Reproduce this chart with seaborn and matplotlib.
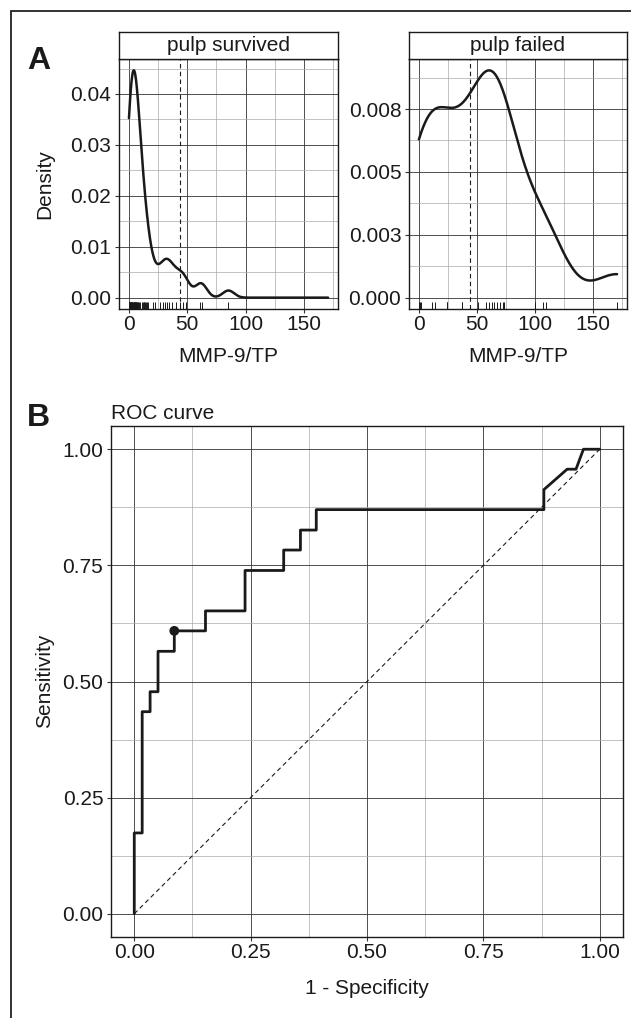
import numpy as np
import pandas as pd
import matplotlib
matplotlib.use('Agg')
import matplotlib.pyplot as plt
import matplotlib.ticker as ticker
from matplotlib.patches import Rectangle
import seaborn as sns

# MMP-9/TP values
survived = [0.0, 0.0, 0.3, 0.3, 0.3, 0.5, 0.8,
            1.2, 1.4, 1.6, 1.8, 2.0, 2.2, 2.4, 2.7, 3.0, 3.3,
            3.6, 3.9, 4.2, 4.4, 4.5, 4.8, 5.0, 5.1, 5.4, 5.7,
            6.0, 6.4, 6.8, 7.2, 7.6, 8.0, 8.6, 9.2,
            11.5, 12.0, 12.5, 12.8,
            13.6, 14.4, 15.2, 16.2,
            20.3, 22.0, 27.0, 29.5, 31.0, 32.5, 34.5, 37.0,
            40.0, 44.0, 46.5, 49.1,
            61.2, 62.4, 85.3]
failed = [0.0, 0.3, 1.0, 1.4, 11.2, 13.5, 23.9, 24.6, 36.8, 37.5, 50.6,
          57.8, 60.3, 62.9, 64.9, 67.2, 69.5, 72.4, 73.5,
          100.3, 107.2, 109.5, 170.7]
cutoff = 44.0

# ROC curve (1 - specificity, sensitivity)
fpr = [0, 0, 0.017, 0.017, 0.034, 0.034, 0.051, 0.051, 0.086, 0.086,
       0.153, 0.153, 0.238, 0.238, 0.321, 0.321, 0.357, 0.357, 0.391, 0.391,
       0.880, 0.880, 0.930, 0.949, 0.965, 1.0]
tpr = [0, 0.174, 0.174, 0.435, 0.435, 0.478, 0.478, 0.565, 0.565, 0.609,
       0.609, 0.652, 0.652, 0.739, 0.739, 0.783, 0.783, 0.826, 0.826, 0.870,
       0.870, 0.913, 0.957, 0.957, 1.0, 1.0]
best_fpr, best_tpr = 0.086, 0.609
diag = [0, 1]

x_ticks = [0, 50, 100, 150]
survived_yticks = [0, 0.01, 0.02, 0.03, 0.04]
survived_ylabels = ['0.00', '0.01', '0.02', '0.03', '0.04']
failed_yticks = [0, 0.0025, 0.005, 0.0075]
failed_ylabels = ['0.000', '0.003', '0.005', '0.008']
roc_ticks = [0, 0.25, 0.5, 0.75, 1.0]
roc_labels = ['0.00', '0.25', '0.50', '0.75', '1.00']

sns.set_style('white')
plt.rcParams['font.family'] = ['Liberation Sans', 'DejaVu Sans']

W, H = 631, 1018
fig = plt.figure(figsize=(W / 100, H / 100), dpi=100)
ink = '#1a1a1a'
fs = 15


def px_box(x0, y0, x1, y1):
    return [x0 / W, 1 - y1 / H, (x1 - x0) / W, (y1 - y0) / H]


def nrd0(x):
    # R's default bandwidth, as ggplot's geom_density uses
    sd = x.std(ddof=1)
    q75, q25 = np.percentile(x, [75, 25])
    return 0.9 * min(sd, (q75 - q25) / 1.34) * len(x) ** -0.2


def style_axes(ax):
    ax.set_axisbelow(True)
    ax.grid(which='major', color='#333333', linewidth=0.6)
    ax.grid(which='minor', color='#aaaaaa', linewidth=0.5)
    ax.tick_params(which='major', length=3, width=0.8, color='#333333',
                   labelsize=fs, labelcolor=ink, pad=1.5, left=True, bottom=True)
    ax.tick_params(axis='y', pad=2.5)
    ax.tick_params(which='minor', length=0)
    for s in ax.spines.values():
        s.set_color(ink)
        s.set_linewidth(1.0)
    ax.set_xlabel('')
    ax.set_ylabel('')


lo = min(min(survived), min(failed))
hi = max(max(survived), max(failed))
span = hi - lo

panels = [
    (survived, 'pulp survived', (119, 338), survived_yticks, survived_ylabels, 0.005),
    (failed, 'pulp failed', (409, 627), failed_yticks, failed_ylabels, 0.00125),
]
for vals, name, (x0, x1), yt, yl, yminor in panels:
    ax = fig.add_axes(px_box(x0, 59, x1, 309))
    x = np.asarray(vals, dtype=float)
    factor = nrd0(x) / x.std(ddof=1)
    sns.kdeplot(x=x, bw_method=factor, cut=1000, clip=(lo, hi), gridsize=512,
                color=ink, linewidth=1.8, ax=ax)
    top = ax.lines[0].get_ydata().max()
    sns.rugplot(x=x, height=0.03, color=ink, linewidth=0.7,
                expand_margins=False, ax=ax)
    ax.axvline(cutoff, color=ink, linewidth=0.8, dashes=(4, 3))
    ax.set_xlim(lo - 0.05 * span, hi + 0.05 * span)
    ax.set_ylim(-0.05 * top, 1.05 * top)
    ax.set_xticks(x_ticks)
    ax.set_yticks(yt)
    ax.set_yticklabels(yl)
    ax.xaxis.set_minor_locator(ticker.MultipleLocator(25))
    ax.yaxis.set_minor_locator(ticker.MultipleLocator(yminor))
    style_axes(ax)

    strip = fig.add_axes(px_box(x0, 32, x1, 59))
    strip.set_xticks([])
    strip.set_yticks([])
    strip.set_facecolor('white')
    for s in strip.spines.values():
        s.set_color(ink)
        s.set_linewidth(1.0)
    strip.text(0.5, 0.5, name, ha='center', va='center', size=fs, color=ink,
               transform=strip.transAxes)
    fig.text((x0 + x1) / 2 / W, 1 - 356 / H, 'MMP-9/TP', ha='center', va='center',
             size=fs, color=ink)

fig.text(45 / W, 1 - 184 / H, 'Density', rotation=90, ha='center', va='center',
         size=fs, color=ink)

# ROC panel
ax = fig.add_axes(px_box(111, 426, 623, 937))
roc = pd.DataFrame({'fpr': fpr, 'tpr': tpr})
ax.plot(diag, diag, color=ink, linewidth=0.8, dashes=(4, 3))
sns.lineplot(data=roc, x='fpr', y='tpr', estimator=None, sort=False,
             color=ink, linewidth=2.0, ax=ax)
sns.scatterplot(x=[best_fpr], y=[best_tpr], s=50, color=ink, edgecolor='none',
                zorder=5, ax=ax)
ax.set_xlim(-0.05, 1.05)
ax.set_ylim(-0.05, 1.05)
ax.set_xticks(roc_ticks)
ax.set_xticklabels(roc_labels)
ax.set_yticks(roc_ticks)
ax.set_yticklabels(roc_labels)
ax.xaxis.set_minor_locator(ticker.MultipleLocator(0.125))
ax.yaxis.set_minor_locator(ticker.MultipleLocator(0.125))
style_axes(ax)

fig.text(111 / W, 1 - 419 / H, 'ROC curve', ha='left', va='baseline', size=fs, color=ink)
fig.text(45 / W, 1 - 681 / H, 'Sensitivity', rotation=90, ha='center', va='center',
         size=fs, color=ink)
fig.text(367 / W, 1 - 988 / H, '1 - Specificity', ha='center', va='center',
         size=fs, color=ink)

fig.text(27 / W, 1 - 69 / H, 'A', ha='left', va='baseline', size=23,
         weight='bold', color=ink)
fig.text(27 / W, 1 - 426 / H, 'B', ha='left', va='baseline', size=23,
         weight='bold', color=ink)

fig.add_artist(Rectangle((11 / W, -0.05), 1.2, 1.05 - 11 / H, transform=fig.transFigure,
                         fill=False, edgecolor='#222222', linewidth=1.3))

fig.savefig('out.png', dpi=100)
